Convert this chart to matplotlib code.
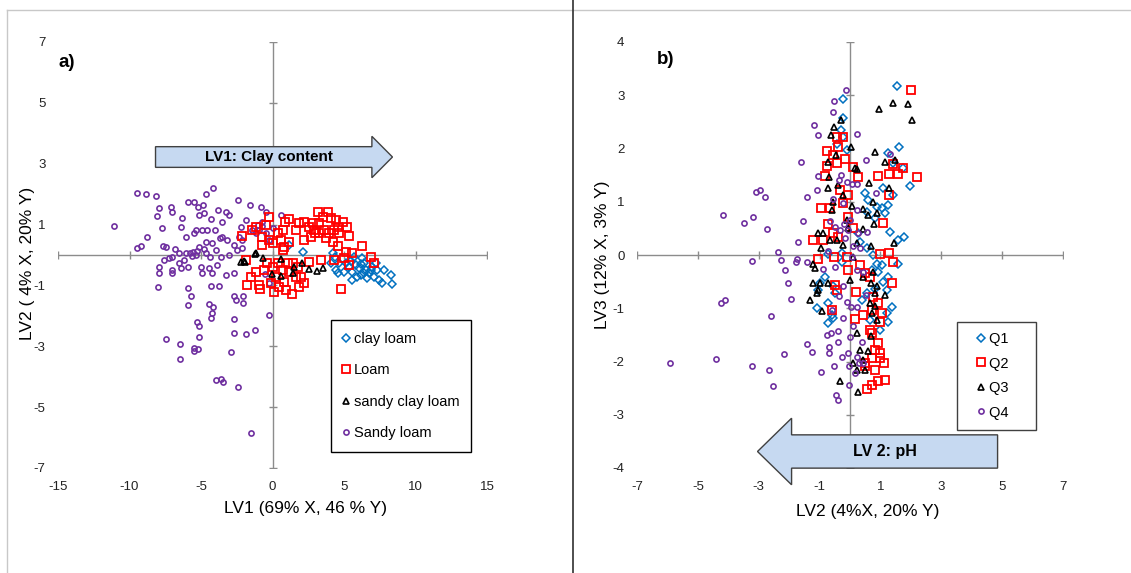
import matplotlib
matplotlib.use("Agg")
import matplotlib.pyplot as plt
from matplotlib.patches import FancyArrow
from matplotlib.lines import Line2D

plt.rcParams['font.family'] = ['Liberation Sans', 'DejaVu Sans']
plt.rcParams['axes.unicode_minus'] = False

# ---- panel a: LV1 vs LV2, by texture class ----
clay_loam_x = [1.17, 2.14, 4.08, 4.38, 4.43, 4.55, 5.13, 5.36, 5.59, 5.83, 6.06, 6.18, 6.41, 6.53,
               6.76, 6.99, 7.11, 7.34, 7.46, 7.69, 7.81, 8.28, 8.39, 5.71, 6.29, 5.01, 5.94, 6.64,
               5.59, 7.23, 4.20, 4.66, 6.4, 6.9, 5.5, 6.2]
clay_loam_y = [0.33, 0.11, -0.27, -0.05, -0.49, -0.60, -0.27, -0.38, -0.55, -0.33, -0.44, -0.66,
               -0.27, -0.49, -0.60, -0.38, -0.71, -0.49, -0.82, -0.93, -0.49, -0.66, -0.95, -0.05,
               -0.11, -0.55, -0.71, -0.77, -0.82, -0.27, 0.05, -0.27, -0.6, -0.5, -0.2, -0.3]

loam_x = [-2.10, -1.40, -1.17, -0.47, -0.23, -0.70, -0.23, -0.70, 0.00, 0.35, 0.70, 0.89, 1.17,
          0.58, 0.82, 0.70, 1.17, 1.63, 1.86, 2.21, 2.56, 2.91, 3.15, 3.50, 3.85, 4.08, 4.43,
          4.90, 5.24, 5.36, 3.26, 3.61, 3.96, 4.31, 4.66, 2.21, 2.68, 2.98, 3.73, 4.20, 4.55,
          6.29, 3.26, 2.80, 4.55,
          -1.86, -1.52, -1.17, -1.75, -0.93, -0.86, -0.58, -0.35, 0.00, 0.23, -0.12, 0.12,
          0.47, 0.82, 0.93, 1.35, 1.17, 1.40, 1.75, 1.98, 2.21, 1.86, 2.56, 1.63, 0.70, 0.35,
          1.05, 4.78,
          3.38, 4.31, 5.01, 5.36, 5.59, 6.88, 7.11, 5.13]
loam_y = [0.63, 0.82, 0.93, 0.98, 1.26, 0.60, 0.49, 0.33, 0.38, 0.71, 0.82, 1.09, 1.17,
          0.49, 0.27, 0.16, 0.44, 0.82, 1.04, 1.09, 0.93, 0.82, 1.42, 1.26, 1.42, 1.20, 1.15,
          1.09, 0.93, 0.63, 0.71, 0.82, 0.71, 0.82, 0.71, 0.49, 0.60, 0.71, 0.55, 0.44, 0.30,
          0.30, 1.04, 1.04, 0.93,
          -0.16, -0.71, -0.55, -0.98, -0.98, -1.13, -0.49, -0.27, -0.38, -0.71, -0.93, -1.20,
          -1.04, -0.88, -1.15, -1.29, -0.55, -0.27, -0.38, -0.71, -0.93, -1.04, -0.22, -0.71,
          -0.49, -0.27, -0.27, -1.12,
          -0.16, -0.16, -0.11, -0.33, 0.05, -0.08, -0.27, 0.11]

sandy_clay_loam_x = [-2.2, -2.0, -1.9, -1.25, -1.17, -0.63, 0.58, -0.05, 0.58, 1.40, 1.52, 2.03,
                     2.52, 3.10, 3.50]
sandy_clay_loam_y = [-0.22, -0.2, -0.22, 0.02, 0.05, -0.11, -0.14, -0.62, -0.69, -0.58, -0.38,
                     -0.27, -0.47, -0.51, -0.42]

sandy_loam_x = [-11.07, -9.49, -8.83, -8.18, -7.93, -8.11, -7.11, -7.02, -7.76, -8.76, -9.51, -9.20,
                -7.69, -7.46, -6.34, -6.41, -5.92, -5.48, -5.20, -4.85, -5.13, -4.78, -4.62, -4.13,
                -3.82, -4.27, -3.50, -3.26, -3.03, -2.42, -1.59, -0.82, -0.47, 0.58, -1.86, -2.21,
                -1.40, -0.70, -0.93, 0.00, -5.36, -4.94, -4.55, -4.01, -6.06, -5.48, -4.66, -4.20,
                -3.50, -3.15, -2.68, -5.13, -5.59, -6.06, -6.53, -7.00, -7.23, -7.58, -6.53, -5.94,
                -7.00, -6.41, -7.97, -7.93, -7.00, -5.01, -4.43, -3.85, -4.90, -4.20, -3.26, -2.68,
                -5.36, -4.66, -3.96, -3.61, -3.03, -2.45, -2.10, -8.04, -5.89, -5.73, -5.89, -4.27,
                -3.73, -4.43, -4.15, -4.20, -4.29, -2.66, -2.52, -2.03, -2.05, -2.68, -0.23, -5.27,
                -5.17, -5.17, -7.46, -6.46, -6.46, -5.50, -5.48, -5.22, -2.68, -1.84, -1.21, -2.89,
                -3.92, -3.59, -3.43, -2.42, -1.52, -0.51, -0.23, -1.17, -0.47, -0.23, -2.10, -2.33,
                -5.8, -5.6, -5.3, -4.8, -6.2, -6.8, -4.4, -3.7, -1.0, -0.7]
sandy_loam_y = [0.96, 2.05, 2.02, 1.94, 1.53, 1.29, 1.59, 1.42, 0.88, 0.60, 0.22, 0.30,
                0.30, 0.27, 1.20, 0.93, 1.75, 1.75, 1.59, 1.64, 1.31, 1.37, 1.99, 2.21,
                1.48, 1.18, 1.09, 1.42, 1.31, 1.81, 1.64, 1.59, 1.42, 1.31, 1.15, 0.93,
                0.82, 1.09, 0.82, 0.88, 0.82, 0.82, 0.82, 0.82, 0.60, 0.71, 0.44, 0.38,
                0.60, 0.49, 0.33, 0.27, 0.11, 0.05, 0.05, -0.05, -0.11, -0.16, -0.27, -0.38,
                -0.49, -0.44, -0.38, -0.58, -0.60, -0.38, -0.44, -0.33, -0.60, -0.60, -0.66, -0.60,
                0.00, 0.05, 0.16, -0.05, 0.00, 0.16, 0.22, -1.04, -1.09, -1.35, -1.64, -1.01,
                -1.01, -1.62, -1.72, -1.91, -2.08, -1.35, -1.48, -1.35, -1.59, -2.11, -1.97, -2.21,
                -2.33, -2.71, -2.76, -2.93, -3.42, -3.04, -3.15, -3.10, -2.55, -2.59, -2.46, -3.18,
                -4.12, -4.07, -4.16, -4.34, -5.85, -0.63, -0.91, 0.71, 0.71, 0.49, 0.49, 0.58,
                0.08, -0.02, 0.12, 0.20, -0.15, 0.20, -0.05, 0.55, 1.0, 0.95]

# ---- panel b: LV2 vs LV3, by quartile ----
q1_x = [1.56, -0.24, -0.22, -0.31, -0.22, -0.44, -0.11, 1.26, 1.62, 1.97, 1.75, 1.42, 0.49, 1.10,
        1.42, 0.60, 0.88, 1.04, 1.26, 1.15, 0.82, 1.31, 1.59, 1.79, 0.55, 0.27, 0.33, 0.55,
        -0.71, -0.27, 1.57, 0.77, 0.71, 0.88, 1.04, 0.93, 1.26, 1.10, 1.37, 1.20, 1.26, 0.99,
        0.66, 0.55, 0.38, -0.82, -0.99, -1.04, -1.10, -0.71, -0.49, -0.55, -0.60, -0.71, -0.55,
        -0.27, 1.20, 0.82]
q1_y = [3.18, 2.93, 2.58, 2.34, 2.22, 2.09, 1.97, 1.92, 2.02, 1.29, 1.63, 1.72, 1.17, 1.25,
        1.13, 1.03, 0.91, 0.88, 0.94, 0.78, 0.69, 0.44, 0.28, 0.33, 0.81, 0.41, 0.25, 0.13,
        0.01, -0.14, -0.16, 0.00, -0.28, -0.16, -0.19, -0.31, -0.41, -0.50, -0.97, -1.09, -1.25,
        -1.41, -1.22, -0.72, -0.84, -0.41, -0.53, -0.66, -1.00, -0.91, -0.72, -0.59, -1.13,
        -1.28, -1.19, 0.03, -0.66, -0.63]

q2_x = [1.99, -0.44, -0.24, -0.77, -0.38, -0.55, -0.16, -0.77, -0.44, -0.82, 0.09, 0.27, 0.93,
        1.28, 1.59, 1.40, 1.73, 2.21, 1.29, -0.05, -0.33, -0.22, -0.66, -0.96, -0.08, 0.11,
        -0.71, -0.88, -1.20, -0.55, -0.38, 1.10, -1.04, -0.51, -0.11, 0.99, 1.29, 1.40, -0.05,
        0.33, 0.66, 0.49, 1.37, -0.49, -0.44, -0.60, 0.20, 0.16, 0.44, 0.77, 0.71, 0.93, 1.04,
        0.99, 0.66, 0.71, 0.93, 0.82, 0.99, 0.71, 0.99, 1.13, 0.82, 1.15, 0.93, 0.71, 0.55,
        0.49, 0.49]
q2_y = [3.09, 2.22, 2.22, 1.96, 2.03, 1.88, 1.80, 1.68, 1.72, 1.49, 1.66, 1.46, 1.49,
        1.53, 1.53, 1.70, 1.63, 1.46, 1.13, 1.13, 1.22, 0.97, 0.88, 0.89, 0.72, 0.51,
        0.58, 0.28, 0.28, 0.41, 0.34, 0.61, -0.08, -0.03, -0.03, 0.02, 0.04, -0.13, -0.29,
        -0.19, -0.41, -0.34, -0.52, -0.56, -0.66, -1.03, -0.70, -1.20, -1.13, -0.78, -1.03, -0.91,
        -1.09, -1.25, -1.41, -1.47, -1.66, -1.78, -1.84, -1.94, -1.94, -2.03, -2.16, -2.34, -2.36,
        -2.44, -2.52, -2.03, -2.09]

q3_x = [1.89, 1.40, 0.95, 2.03, -0.31, -0.53, -0.62, 0.02, -0.47, 0.82, 1.48, 1.15, -0.71, 0.18,
        0.22, -0.68, -0.71, -0.38, 0.62, 1.29, -0.22, -0.55, 0.05, -0.60, 0.44, 0.60, 0.88,
        0.79, 0.77, 0.42, -0.11, -0.05, -1.04, -0.88, -0.96, -0.66, -0.44, -0.22, 0.22, 0.68,
        1.46, 0.11, -1.20, -1.15, -1.20, -0.99, -0.71, -1.04, -1.31, -1.10, -0.93, 0.00, 0.44,
        0.77, 0.69, 0.88, 0.82, 1.15, 0.66, 0.82, 0.71, 0.88, 0.68, 0.24, 0.33, 0.58, 0.44,
        0.49, 0.22, 0.09, -0.33, 0.25]
q3_y = [2.83, 2.86, 2.75, 2.53, 2.53, 2.41, 2.25, 2.03, 1.88, 1.93, 1.79, 1.75, 1.75, 1.63,
        1.61, 1.47, 1.25, 1.31, 1.36, 1.25, 1.13, 1.00, 0.92, 0.84, 0.86, 0.75, 0.78,
        0.58, 1.00, 0.48, 0.66, 0.50, 0.41, 0.41, 0.13, 0.28, 0.28, 0.19, 0.22, 0.17,
        0.23, -0.03, -0.16, -0.25, -0.53, -0.53, -0.53, -0.66, -0.84, -0.72, -1.06, -0.47, -0.41,
        -0.31, -0.52, -0.59, -0.72, -0.75, -0.91, -0.96, -1.09, -1.22, -1.53, -1.47, -1.78, -1.81,
        -1.97, -2.16, -2.16, -2.03, -2.36, -2.58]

q4_x = [-5.91, -4.40, -4.25, -4.11, -4.16, -3.50, -3.18, -3.10, -2.96, -2.79, -2.74, -3.23, -3.23,
        -2.66, -2.61, -2.52, -2.35, -2.27, -2.14, -2.16, -2.03, -1.94, -1.72, -1.75, -1.79, -1.62,
        -1.53, -1.42, -1.42, -1.25, -1.40, -1.17, -1.06, -1.06, -1.07, -0.95, -0.88, -0.73, -0.68,
        -0.69, -0.64, -0.60, -0.56, -0.51, -0.51, -0.47, -0.49, -0.41, -0.41, -0.35, -0.27, -0.22,
        -0.13, -0.11, -0.05, -0.02, -0.03, 0.03, 0.09, 0.00, 0.16, 0.24, 0.24, 0.41, 0.53, 0.53,
        0.84, 1.31, -0.30, -0.24, -0.35, -0.11, 0.05, 0.22, 0.22, -0.55, -0.66, -0.49, -0.33,
        -0.20, 0.00, -0.05, -0.16, 0.27, 0.11, 0.33, 0.55, 0.22, 0.44, 0.05, -0.22, -0.77,
        -0.38, 0.42, 0.22, 0.28]
q4_y = [-2.03, -1.95, -0.91, -0.84, 0.76, 0.61, 0.71, 1.19, 1.22, 1.08, 0.49, -0.11, -2.09,
        -2.16, -1.14, -2.46, 0.06, -0.09, -0.28, -1.86, -0.53, -0.83, 0.24, -0.08, -0.14, 1.74,
        0.63, 1.08, -1.68, -1.83, -0.14, 2.44, 2.25, 1.49, 1.23, -2.20, -0.27, 0.08, -1.84,
        -1.72, -1.47, -1.03, 2.68, 2.89, -2.09, -2.63, -0.22, -1.63, -1.43, -0.77, -1.91, -1.19,
        3.09, -0.88, -1.84, -2.09, -2.44, -0.97, -1.34, -1.54, -2.22, 2.28, -0.97, -1.64, 1.78,
        -0.75, 1.17, 1.89, 1.50, 0.97, 1.41, 1.38, 1.34, 1.34, 0.84, 1.06, 0.63, 0.53, 0.47,
        0.58, 0.66, 0.47, 0.31, 0.41, 0.16, 0.13, 0.44, -0.28, -0.31, -0.03, -0.59, -1.50,
        -2.72, -2.03, -1.91, -2.03]

a_xticks = [-15, -10, -5, 0, 5, 10, 15]
a_yticks = [-7, -5, -3, -1, 1, 3, 5, 7]
b_xticks = [-7, -5, -3, -1, 1, 3, 5, 7]
b_yticks = [-4, -3, -2, -1, 0, 1, 2, 3, 4]

BLUE = '#0070C0'
RED = '#FF0000'
PURPLE = '#7030A0'
GRAY = '#8C8C8C'
ARROW_FILL = '#C6D9F1'

fig = plt.figure(figsize=(11.31, 5.73), dpi=100)
W, H = 1131, 573

def fig_line(x0, y0, x1, y1, color, lw):
    fig.add_artist(Line2D([x0 / W, x1 / W], [1 - y0 / H, 1 - y1 / H], color=color, lw=lw))

fig_line(7, 10, W, 10, '#C8C8C8', 1)
fig_line(7, 10, 7, H, '#C8C8C8', 1)
fig_line(573, 0, 573, H, '#303030', 1.2)

axa = fig.add_axes([58 / W, 105 / H, 429 / W, 426 / H])
axb = fig.add_axes([637 / W, 105 / H, 426 / W, 426 / H])


def setup(ax, xt, yt):
    ax.set_xlim(xt[0], xt[-1])
    ax.set_ylim(yt[0], yt[-1])
    for s in ax.spines.values():
        s.set_visible(False)
    ax.set_xticks(xt)
    ax.set_yticks(yt)
    ax.set_xticklabels([str(v) for v in xt])
    ax.set_yticklabels([str(v) for v in yt])
    ax.tick_params(length=0, pad=9, labelsize=9.5, colors='#222222')
    ax.plot([xt[0], xt[-1]], [0, 0], color=GRAY, lw=1, zorder=1)
    ax.plot([0, 0], [yt[0], yt[-1]], color=GRAY, lw=1, zorder=1)
    ax.plot(xt, [0] * len(xt), ls='none', marker='|', ms=6, mew=1, color=GRAY, zorder=1)
    ax.plot([0] * len(yt), yt, ls='none', marker='_', ms=6, mew=1, color=GRAY, zorder=1)


setup(axa, a_xticks, a_yticks)
setup(axb, b_xticks, b_yticks)

sq = dict(marker='s', ms=5.5, mfc='none', mew=1.3, ls='none')
di = dict(marker='D', ms=4.3, mfc='none', mew=1.1, ls='none')
tr = dict(marker='^', ms=4.5, mfc='none', mew=1.2, ls='none')
ci = dict(marker='o', ms=3.7, mfc='none', mew=1.2, ls='none')

# panel a
h1, = axa.plot(clay_loam_x, clay_loam_y, color=BLUE, label='clay loam', zorder=3, **di)
h2, = axa.plot(loam_x, loam_y, color=RED, label='Loam', zorder=4, **sq)
h3, = axa.plot(sandy_clay_loam_x, sandy_clay_loam_y, color='black', label='sandy clay loam', zorder=5, **tr)
h4, = axa.plot(sandy_loam_x, sandy_loam_y, color=PURPLE, label='Sandy loam', zorder=3, **ci)

leg = axa.legend(handles=[h1, h2, h3, h4], loc='upper left', bbox_to_anchor=(0.636, 0.347),
                 fontsize=10.5, labelspacing=1.2, handlelength=0.5, handletextpad=0.3,
                 borderpad=0.8, borderaxespad=0, fancybox=False, framealpha=1, edgecolor='black')
leg.get_frame().set_linewidth(1)

axa.add_patch(FancyArrow(-8.18, 3.22, 16.57, 0, width=0.68, head_width=1.36, head_length=1.44,
                         length_includes_head=True, fc=ARROW_FILL, ec='#404040', lw=1, zorder=6))
axa.text(-0.28, 3.22, 'LV1: Clay content', ha='center', va='center', fontsize=11,
         fontweight='bold', zorder=7)
axa.text(0.021, 0.951, 'a)', transform=axa.transAxes, ha='center', va='center', fontsize=13.5,
         fontweight='bold')
axa.text(0.576, -0.094, 'LV1 (69% X, 46 % Y)', transform=axa.transAxes, ha='center',
         va='center', fontsize=12.5)
axa.text(-0.072, 0.481, 'LV2 ( 4% X, 20% Y)', transform=axa.transAxes, ha='center',
         va='center', rotation=90, fontsize=12.5)

# panel b
pad = '\u00a0' * 4
g1, = axb.plot(q1_x, q1_y, color=BLUE, label='Q1' + pad, zorder=3, **di)
g2, = axb.plot(q2_x, q2_y, color=RED, label='Q2' + pad, zorder=4, **sq)
g3, = axb.plot(q3_x, q3_y, color='black', label='Q3' + pad, zorder=5, **tr)
g4, = axb.plot(q4_x, q4_y, color=PURPLE, label='Q4' + pad, zorder=5, **ci)

legb = axb.legend(handles=[g1, g2, g3, g4], loc='upper left', bbox_to_anchor=(0.752, 0.343),
                  fontsize=10.5, labelspacing=0.72, handlelength=1.9, handletextpad=-0.4,
                  borderpad=0.7, borderaxespad=0, fancybox=False, framealpha=1, edgecolor='#404040')
legb.get_frame().set_linewidth(1)

axb.add_patch(FancyArrow(4.85, -3.69, -7.89, 0, width=0.625, head_width=1.25, head_length=1.12,
                         length_includes_head=True, fc=ARROW_FILL, ec='#404040', lw=1, zorder=6,
                         clip_on=False))
axb.text(1.15, -3.69, 'LV 2: pH', ha='center', va='center', fontsize=11.5, fontweight='bold', zorder=7)
axb.text(0.066, 0.958, 'b)', transform=axb.transAxes, ha='center', va='center', fontsize=13.5,
         fontweight='bold')
axb.text(0.542, -0.103, 'LV2 (4%X, 20% Y)', transform=axb.transAxes, ha='center', va='center',
         fontsize=12.5)
axb.text(-0.082, 0.5, 'LV3 (12% X, 3% Y)', transform=axb.transAxes, ha='center', va='center',
         rotation=90, fontsize=12.5)

fig.savefig('out.png', dpi=100)
